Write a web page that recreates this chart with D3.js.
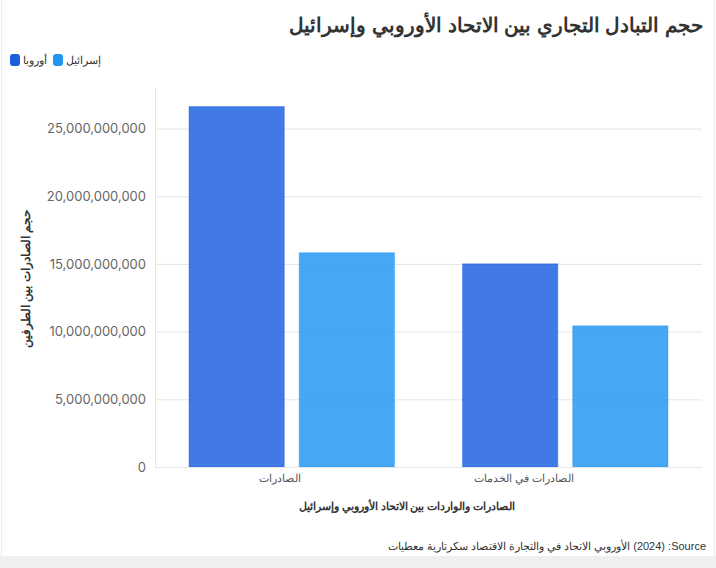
<!DOCTYPE html>
<meta charset="utf-8">
<style>
body { margin: 0; background: #fff; }
svg { display: block; font-family: "Liberation Sans", Arial, sans-serif; }
.grid line { stroke: #e6e6e6; }
.grid .domain { display: none; }
.yaxis text { fill: #666; font-family: Inter, sans-serif; font-size: 13px; }
.yaxis .domain, .yaxis line { stroke: none; }
.xaxis text { fill: #555; font-size: 10.5px; }
.xaxis .domain { stroke: #e6e6e6; }
.xaxis line { stroke: none; }
</style>
<body>
<script src="https://cdn.jsdelivr.net/npm/d3@7"></script>
<script>

// data
var categories = ["الصادرات", "الصادرات في الخدمات"];
var seriesNames = ["أوروبا", "إسرائيل"];
var europe = [26630000000, 15010000000];
var israel = [15830000000, 10430000000];
var yTicks = [0, 5000000000, 10000000000, 15000000000, 20000000000, 25000000000];
var colors = ["#1a5fe0", "#2196f3"];

var W = 716, H = 568;
var margin = {top: 88, right: 14, bottom: 101, left: 155},
    width = W - margin.left - margin.right,
    height = H - margin.top - margin.bottom;

var svg = d3.select("body").append("svg")
    .attr("width", W)
    .attr("height", H);

// page frame
svg.append("rect").attr("x", 0).attr("y", 0).attr("width", W).attr("height", H).attr("fill", "#fff");
svg.append("rect").attr("x", 0).attr("y", 556).attr("width", W).attr("height", 12).attr("fill", "#efefef");
svg.append("line").attr("x1", 1.5).attr("x2", 1.5).attr("y1", 0).attr("y2", 556).attr("stroke", "#ececec");
svg.append("line").attr("x1", 714.5).attr("x2", 714.5).attr("y1", 0).attr("y2", 556).attr("stroke", "#ececec");

var g = svg.append("g")
    .attr("transform", "translate(" + margin.left + "," + margin.top + ")");

var x0 = d3.scaleBand().domain(categories).range([0, width]).paddingInner(0).paddingOuter(0);
var x1 = d3.scaleBand().domain(seriesNames).range([34, x0.bandwidth() - 34]).paddingInner(0.135);
var y = d3.scaleLinear().domain([0, 28000000000]).range([height, 0]);

// grid
g.append("g").attr("class", "grid")
  .call(d3.axisLeft(y).tickValues(yTicks).tickSize(-width).tickFormat(""));
g.append("line").attr("x1", 0.5).attr("x2", 0.5).attr("y1", 0).attr("y2", height).attr("stroke", "#e6e6e6");

// y axis
g.append("g").attr("class", "yaxis")
  .call(d3.axisLeft(y).tickValues(yTicks).tickSize(0).tickPadding(9).tickFormat(d3.format(",")));

// bars
var rows = categories.map(function(c, i) { return [europe[i], israel[i]]; });
var grp = g.selectAll(".grp").data(rows).enter().append("g")
    .attr("transform", function(d, i) { return "translate(" + x0(categories[i]) + ",0)"; });
grp.selectAll("rect").data(function(d) { return d; }).enter().append("rect")
    .attr("x", function(d, j) { return x1(seriesNames[j]); })
    .attr("y", function(d) { return y(d); })
    .attr("width", x1.bandwidth())
    .attr("height", function(d) { return height - y(d); })
    .attr("fill", function(d, j) { return colors[j]; })
    .attr("fill-opacity", 0.83)
    .attr("stroke", function(d, j) { return colors[j]; })
    .attr("stroke-opacity", 0.4);

// x axis (labels sit a bit right of band centre, as in the original)
g.append("g").attr("class", "xaxis")
  .attr("transform", "translate(0," + height + ")")
  .call(d3.axisBottom(x0).tickSize(0).tickPadding(8))
  .selectAll("text").attr("text-anchor", "end").attr("dx", 9);

// title
svg.append("text")
  .attr("x", 703).attr("y", 32)
  .attr("text-anchor", "end")
  .attr("font-size", 20.2).attr("font-weight", "bold").attr("fill", "#333")
  .text("حجم التبادل التجاري بين الاتحاد الأوروبي وإسرائيل");

// legend
var leg = svg.append("g").attr("transform", "translate(10,54)");
var legX = [0, 43];
seriesNames.forEach(function(s, i) {
  leg.append("rect").attr("x", legX[i]).attr("y", 0).attr("width", 10).attr("height", 12)
    .attr("rx", 3).attr("fill", colors[i]);
  leg.append("text").attr("x", legX[i] + 13).attr("y", 10).attr("font-size", 11)
    .attr("fill", "#333").text(s);
});

// axis titles
svg.append("text")
  .attr("transform", "translate(30,279) rotate(-90)")
  .attr("text-anchor", "middle")
  .attr("font-size", 12).attr("font-weight", "bold").attr("fill", "#333")
  .text("حجم الصادرات بين الطرفين");

svg.append("text")
  .attr("x", 407).attr("y", 510)
  .attr("text-anchor", "middle")
  .attr("font-size", 10.7).attr("font-weight", "bold").attr("fill", "#333")
  .text("الصادرات والواردات بين الاتحاد الأوروبي وإسرائيل");

// source (right-to-left run, word order as drawn in the original)
svg.append("text")
  .attr("x", 706).attr("y", 550)
  .attr("text-anchor", "end")
  .attr("font-size", 11).attr("fill", "#333")
  .text("\u202BSource:\u200F (2024) الأوروبي الاتحاد في والتجارة الاقتصاد سكرتارية معطيات\u202C");

</script>
</body>
